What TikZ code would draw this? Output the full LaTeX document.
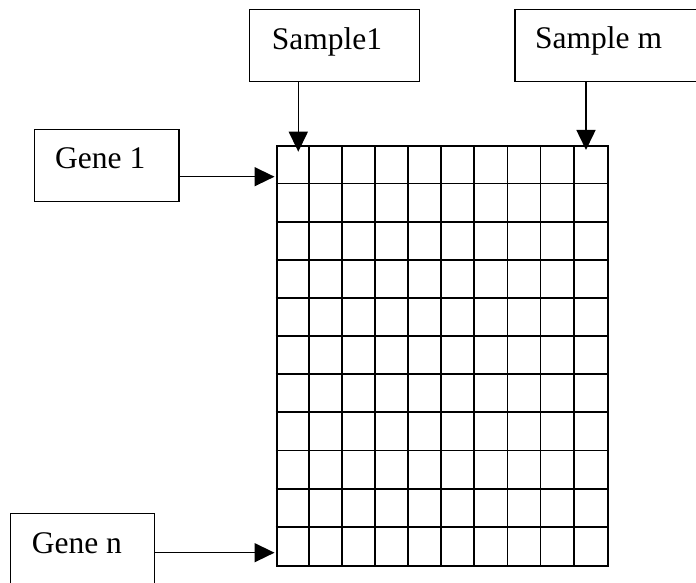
\documentclass[tikz,border=0pt]{standalone}
\usepackage{fontspec}
\setmainfont{Liberation Serif}
\newfontfamily\timesfont{Liberation Serif}
\usetikzlibrary{arrows.meta,calc}
\begin{document}
\begin{tikzpicture}[x=1pt,y=-1pt,
  box/.style={draw, line width=1.2pt, rectangle, inner sep=0pt, anchor=north west},
  lbl/.style={anchor=base west, inner sep=0pt, font=\timesfont\fontsize{31.5}{37}\selectfont},
  conn/.style={line width=1.5pt, -{Triangle[length=20pt,width=19pt]}},
  gridline/.style={line width=1.8pt}]
\useasboundingbox (0,0) rectangle (696,583);
% boxes
\node[box, minimum width=170pt, minimum height=72pt] (s1) at (249,9) {};
\node[box, minimum width=200pt, minimum height=72pt] (sm) at (514.3,9) {};
\node[box, minimum width=144.6pt, minimum height=71.4pt] (g1) at (33.7,129.3) {};
\node[box, minimum width=144pt, minimum height=90pt] (gn) at (10,512.7) {};
% labels
\node[lbl] (s1t) at (271.7,50) {Sample1};
\node[lbl] (smt) at (535,49) {Sample m};
\node[lbl] (g1t) at (55,168) {Gene 1};
\node[lbl] (gnt) at (31.7,553) {Gene n};
% grid
\node[draw, gridline, rectangle, inner sep=0pt, anchor=north west,
      minimum width=331pt, minimum height=419.7pt] (grid) at (275.7,145.3) {};
\foreach \i in {1,...,9} {
  \draw[gridline] ($(grid.north west)+(\i*33.1,0)$) -- ($(grid.south west)+(\i*33.1,0)$);
}
\foreach \j in {1,...,10} {
  \draw[gridline] ($(grid.north west)+(0,\j*38.15)$) -- ($(grid.north east)+(0,\j*38.15)$);
}
% connectors
\coordinate (a1) at (298.3,151.7);
\coordinate (am) at (586,150);
\coordinate (b1) at (274.5,176.7);
\coordinate (bn) at (274.5,552.7);
\draw[conn] (s1.south -| a1) -- (a1);
\draw[conn] (sm.south -| am) -- (am);
\draw[conn] (g1.east |- b1) -- (b1);
\draw[conn] (gn.east |- bn) -- (bn);
\end{tikzpicture}
\end{document}
